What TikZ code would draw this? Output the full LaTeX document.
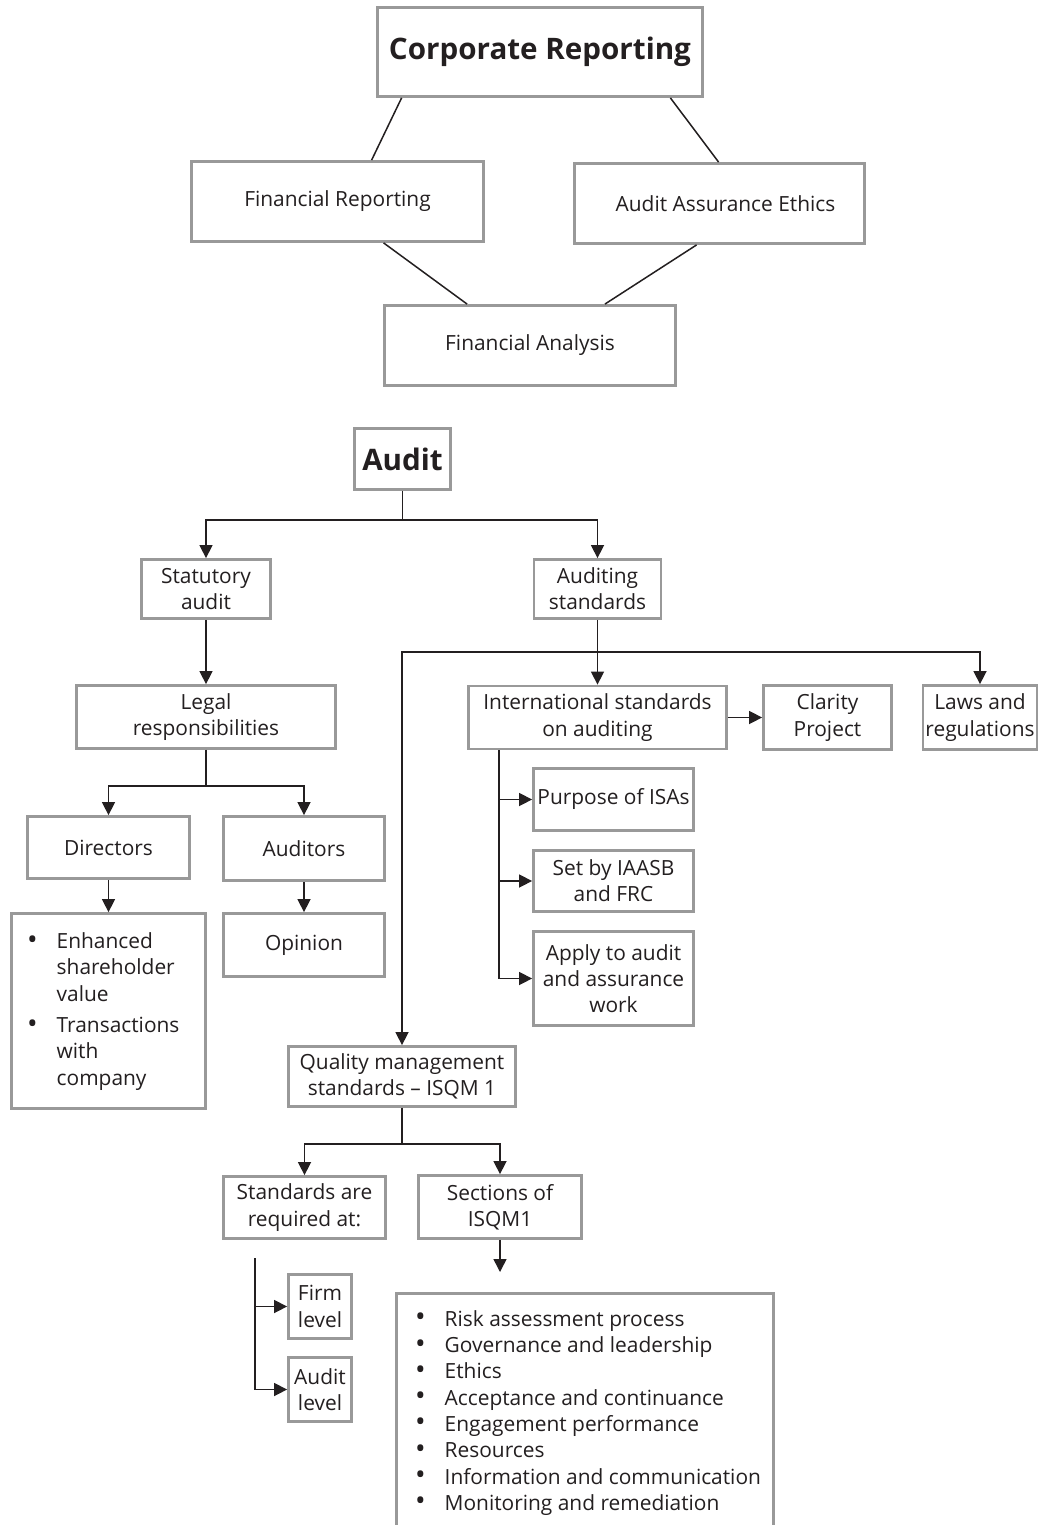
\documentclass[tikz,border=0pt]{standalone}
\usepackage{fontspec}
\setmainfont{Open Sans}
\usetikzlibrary{arrows.meta}
\definecolor{boxgray}{HTML}{999999}
\definecolor{ink}{HTML}{231F20}
\newcommand\normaltext{\fontsize{20.9}{26.3}\selectfont}
\newcommand\titletext{\fontsize{29.6}{34}\selectfont\bfseries}
\newcommand\bul{\makebox[29.5pt][l]{\raisebox{-0.5pt}{\scalebox{1.35}{\textbullet}}}}

\begin{document}
\begin{tikzpicture}[x=1pt,y=-1pt,
  box/.style={draw=boxgray, line width=2.8pt, fill=white, text=ink,
              align=center, inner sep=0pt, font=\normaltext},
  listtext/.style={anchor=north west, inner sep=0pt, text=ink, font=\normaltext},
  link/.style={draw=ink, line width=1.5pt},
  arr/.style={link, -{Triangle[length=13pt,width=13pt]}},
]
\useasboundingbox (0,0) rectangle (1042,1525);
\fill[white] (0,0) rectangle (1042,1525);

% ---------- Corporate Reporting overview ----------
\node[box, font=\titletext, minimum width=325, minimum height=89] (cr) at (540,52) {Corporate Reporting};
\node[box, minimum width=292, minimum height=80] (fr)  at (337.5,201.5) {Financial Reporting};
\node[box, minimum width=290, minimum height=80] (aae) at (719.5,203.5) {\hspace{12pt}Audit Assurance Ethics};
\node[box, minimum width=291, minimum height=80] (fa)  at (530,345.5) {Financial Analysis};

\draw[link] ([xshift=25.5pt]cr.south west) -- ([xshift=181.5pt]fr.north west);
\draw[link] ([xshift=-33.5pt]cr.south east) -- ([xshift=145.5pt]aae.north west);
\draw[link] ([xshift=193.5pt]fr.south west) -- ([xshift=84pt]fa.north west);
\draw[link] ([xshift=123.5pt]aae.south west) -- ([xshift=-72pt]fa.north east);

% ---------- Audit tree ----------
\node[box, font=\titletext, minimum width=96, minimum height=61] (audit) at (402.5,459) {Audit};

\node[box, minimum width=129, minimum height=59] (stat)   at (206,589) {Statutory\\audit};
\node[box, minimum width=127, minimum height=59] (audstd) at (597.5,589) {Auditing\\standards};

\draw[arr] (audit.south) -- ++(0,29) -| (stat.north);
\draw[arr] (audit.south) -- ++(0,29) -| (audstd.north);

% statutory audit branch
\node[box, minimum width=259, minimum height=63] (legal) at (206,717) {Legal\\responsibilities};
\draw[arr] (stat.south) -- (legal.north);

\node[box, minimum width=162, minimum height=62] (dirs) at (108.5,847.5) {Directors};
\node[box, minimum width=161, minimum height=64] (auds) at (304,848.5) {Auditors};
\draw[arr] (legal.south) -- ++(0,36) -| (dirs.north);
\draw[arr] (legal.south) -- ++(0,36) -| (auds.north);

\node[box, minimum width=194, minimum height=195] (dirlist) at (108.5,1011) {};
\node[listtext] (dirtext) at (27,930) {%
  \begin{tabular}{@{}l@{}l@{}}
  \bul & Enhanced\\
       & shareholder\\
       & value\\[5pt]
  \bul & Transactions\\
       & with\\
       & company
  \end{tabular}};
\node[box, minimum width=161, minimum height=63] (opinion) at (304,945) {Opinion};
\draw[arr] (dirs.south) -- (dirlist.north);
\draw[arr] (auds.south) -- (opinion.north);

% auditing standards branch
\node[box, minimum width=258, minimum height=63] (isa)     at (597.5,717.5) {International standards\\on auditing};
\node[box, minimum width=128, minimum height=64] (clarity) at (827.5,717.5) {Clarity\\Project};
\node[box, minimum width=114, minimum height=64] (laws)    at (980,717.5) {Laws and\\regulations};

\coordinate (hub) at (597.5,652);
\draw[link] (audstd.south) -- (hub);
\draw[arr] (hub) -- (isa.north);
\draw[arr] (hub) -| (laws.north);
\draw[arr] (isa.east) -- (clarity.west);

\node[box, minimum width=160, minimum height=62] (purpose) at (613.5,799.5) {Purpose of ISAs};
\node[box, minimum width=160, minimum height=61] (setby)   at (613.5,881) {Set by IAASB\\and FRC};
\node[box, minimum width=160, minimum height=94] (apply)   at (613.5,978.5) {Apply to audit\\and assurance\\work};

\draw[arr] ([xshift=-98.5pt]isa.south) |- (purpose.west);
\draw[arr] ([xshift=-98.5pt]isa.south) |- (setby.west);
\draw[arr] ([xshift=-98.5pt]isa.south) |- (apply.west);

% quality management
\node[box, minimum width=227, minimum height=60] (qms) at (402,1076.5) {Quality management\\standards -- ISQM 1};
\draw[arr] (hub) -| (qms.north);

\node[box, minimum width=162, minimum height=62] (stdreq)   at (304.5,1207.5) {Standards are\\required at:};
\node[box, minimum width=163, minimum height=63] (sections) at (500,1207) {Sections of\\ISQM1};
\draw[arr] (qms.south) -- ++(0,36) -| (stdreq.north);
\draw[arr] (qms.south) -- ++(0,36) -| (sections.north);

\node[box, minimum width=63, minimum height=64] (firm) at (320,1306.5) {Firm\\level};
\node[box, minimum width=63, minimum height=64] (alvl) at (320,1389.5) {Audit\\level};
\coordinate (lvtop) at (255,1258);
\draw[arr] (lvtop) |- (firm.west);
\draw[arr] (lvtop) |- (alvl.west);

\coordinate (secend) at (500,1272);
\draw[arr] (sections.south) -- (secend);

\node[box, minimum width=377, minimum height=260] (seclist) at (585,1423.4) {};
\node[listtext] (sectext) at (415,1307.6) {%
  \begin{tabular}{@{}l@{}l@{}}
  \bul & Risk assessment process\\
  \bul & Governance and leadership\\
  \bul & Ethics\\
  \bul & Acceptance and continuance\\
  \bul & Engagement performance\\
  \bul & Resources\\
  \bul & Information and communication\\
  \bul & Monitoring and remediation
  \end{tabular}};
\end{tikzpicture}
\end{document}
